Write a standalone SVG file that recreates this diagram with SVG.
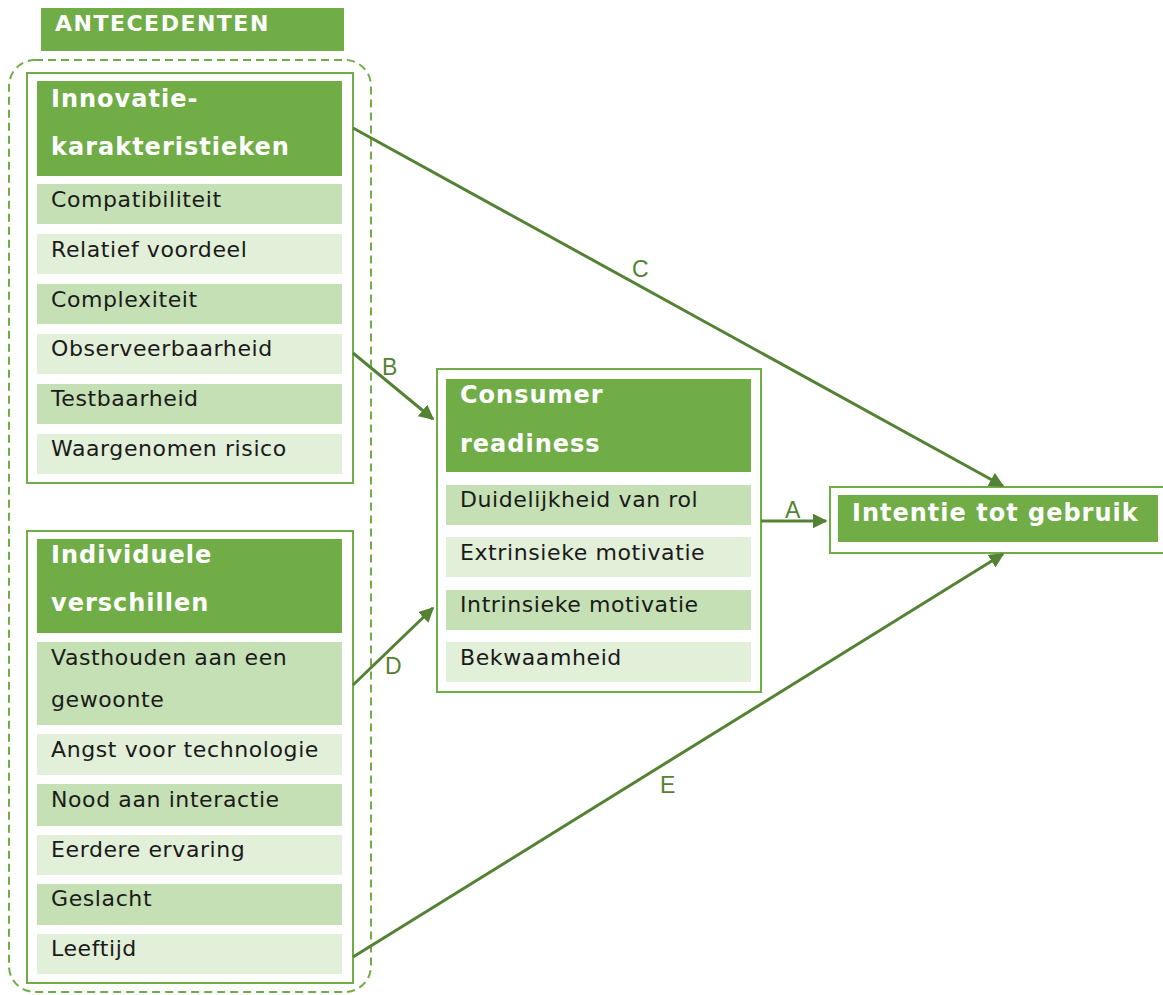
<svg xmlns="http://www.w3.org/2000/svg" width="1163" height="995" viewBox="0 0 1163 995">
<defs>
<style>
.hdr{fill:#70ad47}
.dk{fill:#c5e0b4}
.lt{fill:#e2efd9}
.box{fill:#fff;stroke:#70ad47;stroke-width:2}
.ht{font-family:"DejaVu Sans",Verdana,sans-serif;font-weight:bold;font-size:24px;letter-spacing:1px;fill:#fff}
.rt{font-family:"DejaVu Sans",Verdana,sans-serif;font-size:22px;letter-spacing:0.6px;fill:#1a1a1a}
.lbl{font-family:"Liberation Sans",Arial,sans-serif;font-size:23px;fill:#548235}
.con{stroke:#548235;stroke-width:3;fill:none;marker-end:url(#ah)}
</style>
<marker id="ah" viewBox="0 0 10 10" refX="9" refY="5" markerWidth="5" markerHeight="5" orient="auto" markerUnits="strokeWidth">
<path d="M0,0 L10,5 L0,10 z" fill="#548235"/>
</marker>
</defs>
<rect width="1163" height="995" fill="#fff"/>
<g id="antecedenten">
<rect x="41" y="8" width="303" height="43" class="hdr"/>
<text x="55" y="31" class="ht" style="font-size:22px;letter-spacing:1.5px">ANTECEDENTEN</text>
<rect x="9" y="60" width="362" height="932" rx="26" fill="none" stroke="#70ad47" stroke-width="2" stroke-dasharray="8,5"/>
</g>
<g id="innovatie">
<rect x="27" y="73" width="326" height="410" class="box"/>
<rect x="37" y="81" width="305" height="95" class="hdr"/>
<text x="51" y="107" class="ht">Innovatie-</text>
<text x="51" y="155" class="ht">karakteristieken</text>
<rect x="37" y="184" width="305" height="40" class="dk"/>
<text x="51" y="207" class="rt">Compatibiliteit</text>
<rect x="37" y="234" width="305" height="40" class="lt"/>
<text x="51" y="257" class="rt">Relatief voordeel</text>
<rect x="37" y="284" width="305" height="40" class="dk"/>
<text x="51" y="307" class="rt">Complexiteit</text>
<rect x="37" y="334" width="305" height="40" class="lt"/>
<text x="51" y="356" class="rt">Observeerbaarheid</text>
<rect x="37" y="384" width="305" height="40" class="dk"/>
<text x="51" y="406" class="rt">Testbaarheid</text>
<rect x="37" y="434" width="305" height="40" class="lt"/>
<text x="51" y="456" class="rt">Waargenomen risico</text>
</g>
<g id="individuele">
<rect x="27" y="531" width="326" height="452" class="box"/>
<rect x="37" y="539" width="305" height="94" class="hdr"/>
<text x="51" y="563" class="ht">Individuele</text>
<text x="51" y="611" class="ht">verschillen</text>
<rect x="37" y="642" width="305" height="83" class="dk"/>
<text x="51" y="665" class="rt">Vasthouden aan een</text>
<text x="51" y="707" class="rt">gewoonte</text>
<rect x="37" y="734" width="305" height="41" class="lt"/>
<text x="51" y="757" class="rt">Angst voor technologie</text>
<rect x="37" y="784" width="305" height="42" class="dk"/>
<text x="51" y="807" class="rt">Nood aan interactie</text>
<rect x="37" y="835" width="305" height="40" class="lt"/>
<text x="51" y="857" class="rt">Eerdere ervaring</text>
<rect x="37" y="884" width="305" height="41" class="dk"/>
<text x="51" y="906" class="rt">Geslacht</text>
<rect x="37" y="934" width="305" height="40" class="lt"/>
<text x="51" y="956" class="rt">Leeftijd</text>
</g>
<g id="consumer">
<rect x="437" y="369" width="324" height="323" class="box"/>
<rect x="446" y="379" width="305" height="93" class="hdr"/>
<text x="460" y="403" class="ht">Consumer</text>
<text x="460" y="452" class="ht">readiness</text>
<rect x="446" y="485" width="305" height="40" class="dk"/>
<text x="460" y="507" class="rt">Duidelijkheid van rol</text>
<rect x="446" y="537" width="305" height="40" class="lt"/>
<text x="460" y="560" class="rt">Extrinsieke motivatie</text>
<rect x="446" y="590" width="305" height="40" class="dk"/>
<text x="460" y="612" class="rt">Intrinsieke motivatie</text>
<rect x="446" y="642" width="305" height="40" class="lt"/>
<text x="460" y="665" class="rt">Bekwaamheid</text>
</g>
<g id="intentie">
<rect x="830" y="487" width="340" height="66" class="box"/>
<rect x="838" y="495" width="320" height="47" class="hdr"/>
<text x="852" y="521" class="ht">Intentie tot gebruik</text>
</g>
<g id="connectors">
<line x1="353" y1="128" x2="1003" y2="486" class="con"/>
<line x1="353" y1="353" x2="433" y2="419" class="con"/>
<line x1="761" y1="521" x2="826" y2="521" class="con"/>
<line x1="353" y1="685" x2="433" y2="608" class="con"/>
<line x1="353" y1="957" x2="1003" y2="554" class="con"/>
<text x="632" y="277" class="lbl">C</text>
<text x="382" y="375" class="lbl">B</text>
<text x="785" y="518" class="lbl">A</text>
<text x="385" y="674" class="lbl">D</text>
<text x="660" y="793" class="lbl">E</text>
</g>
</svg>
